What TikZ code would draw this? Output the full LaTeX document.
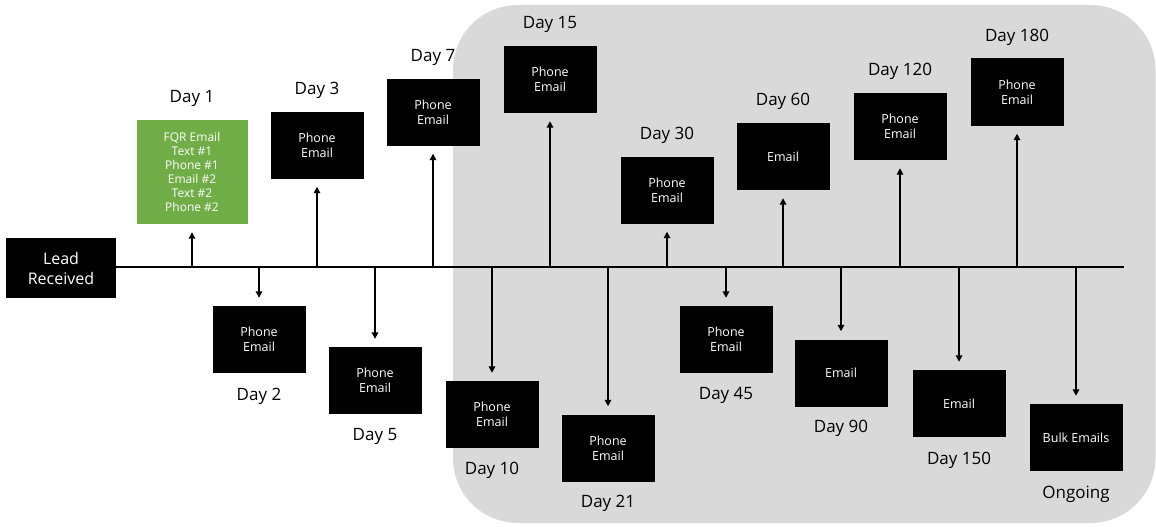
\documentclass[tikz,border=0pt]{standalone}
\usepackage{fontspec}
\setmainfont{Open Sans}
\usetikzlibrary{arrows.meta}
\definecolor{bggray}{HTML}{D9D9D9}
\definecolor{leafgreen}{HTML}{70AD47}
\begin{document}
\begin{tikzpicture}[x=1pt,y=-1pt,
  box/.style={fill=black,text=white,minimum width=93pt,minimum height=67pt,inner sep=0pt,align=center,font=\fontsize{12.5}{15}\selectfont},
  greenbox/.style={fill=leafgreen,text=white,minimum width=111pt,minimum height=104pt,inner sep=0pt,align=center,font=\fontsize{12}{14}\selectfont},
  leadbox/.style={fill=black,text=white,minimum width=110pt,minimum height=60pt,inner sep=0pt,align=center,font=\fontsize{16}{20}\selectfont},
  lbl/.style={font=\fontsize{17}{20}\selectfont,inner sep=0pt},
  conn/.style={line width=1.8pt,-{Triangle[width=6.5pt,length=6.5pt]},shorten >=8pt}
]
\useasboundingbox (0,0) rectangle (1156,527);
\fill[bggray,rounded corners=65pt] (453,5) rectangle (1155.5,523);

% nodes
\node[leadbox] (lead) at (61,268) {Lead\\Received};
\node[greenbox] (d1) at (192,172) {FQR Email\\Text \#1\\Phone \#1\\Email \#2\\Text \#2\\Phone \#2};
\node[box] (d2) at (259,339.5) {Phone\\Email};
\node[box] (d3) at (317,145) {Phone\\Email};
\node[box] (d5) at (375,380.5) {Phone\\Email};
\node[box] (d7) at (433,112) {Phone\\Email};
\node[box] (d10) at (492,414.5) {Phone\\Email};
\node[box] (d15) at (550,79.5) {Phone\\Email};
\node[box] (d21) at (608,448) {Phone\\Email};
\node[box] (d30) at (667,190) {Phone\\Email};
\node[box] (d45) at (726,339.5) {Phone\\Email};
\node[box] (d60) at (783,156.5) {Email};
\node[box] (d90) at (841,373) {Email};
\node[box] (d120) at (900,126.5) {Phone\\Email};
\node[box] (d150) at (959,403.5) {Email};
\node[box] (d180) at (1017,92) {Phone\\Email};
\node[box] (dong) at (1076,437.5) {Bulk Emails};

% labels
\node[lbl] (l1) at ([yshift=21pt]d1.north) {Day 1};
\node[lbl] (l3) at ([yshift=21pt]d3.north) {Day 3};
\node[lbl] (l7) at ([yshift=21pt]d7.north) {Day 7};
\node[lbl] (l15) at ([yshift=21pt]d15.north) {Day 15};
\node[lbl] (l30) at ([yshift=21pt]d30.north) {Day 30};
\node[lbl] (l60) at ([yshift=21pt]d60.north) {Day 60};
\node[lbl] (l120) at ([yshift=21pt]d120.north) {Day 120};
\node[lbl] (l180) at ([yshift=21pt]d180.north) {Day 180};
\node[lbl] (l2) at ([yshift=-23pt]d2.south) {Day 2};
\node[lbl] (l5) at ([yshift=-22pt]d5.south) {Day 5};
\node[lbl] (l10) at ([yshift=-22pt]d10.south) {Day 10};
\node[lbl] (l21) at ([yshift=-22pt]d21.south) {Day 21};
\node[lbl] (l45) at ([yshift=-22pt]d45.south) {Day 45};
\node[lbl] (l90) at ([yshift=-22pt]d90.south) {Day 90};
\node[lbl] (l150) at ([yshift=-23pt]d150.south) {Day 150};
\node[lbl] (long) at ([yshift=-23pt]dong.south) {Ongoing};

% timeline
\coordinate (tend) at (1124,267);
\draw[line width=2pt] (lead.east |- tend) -- (tend);

% connectors
\foreach \n in {d1,d2,d3,d5,d7,d10,d15,d21,d30,d45,d60,d90,d120,d150,d180,dong}{
  \draw[conn] (\n |- tend) -- (\n);
}
\end{tikzpicture}
\end{document}
